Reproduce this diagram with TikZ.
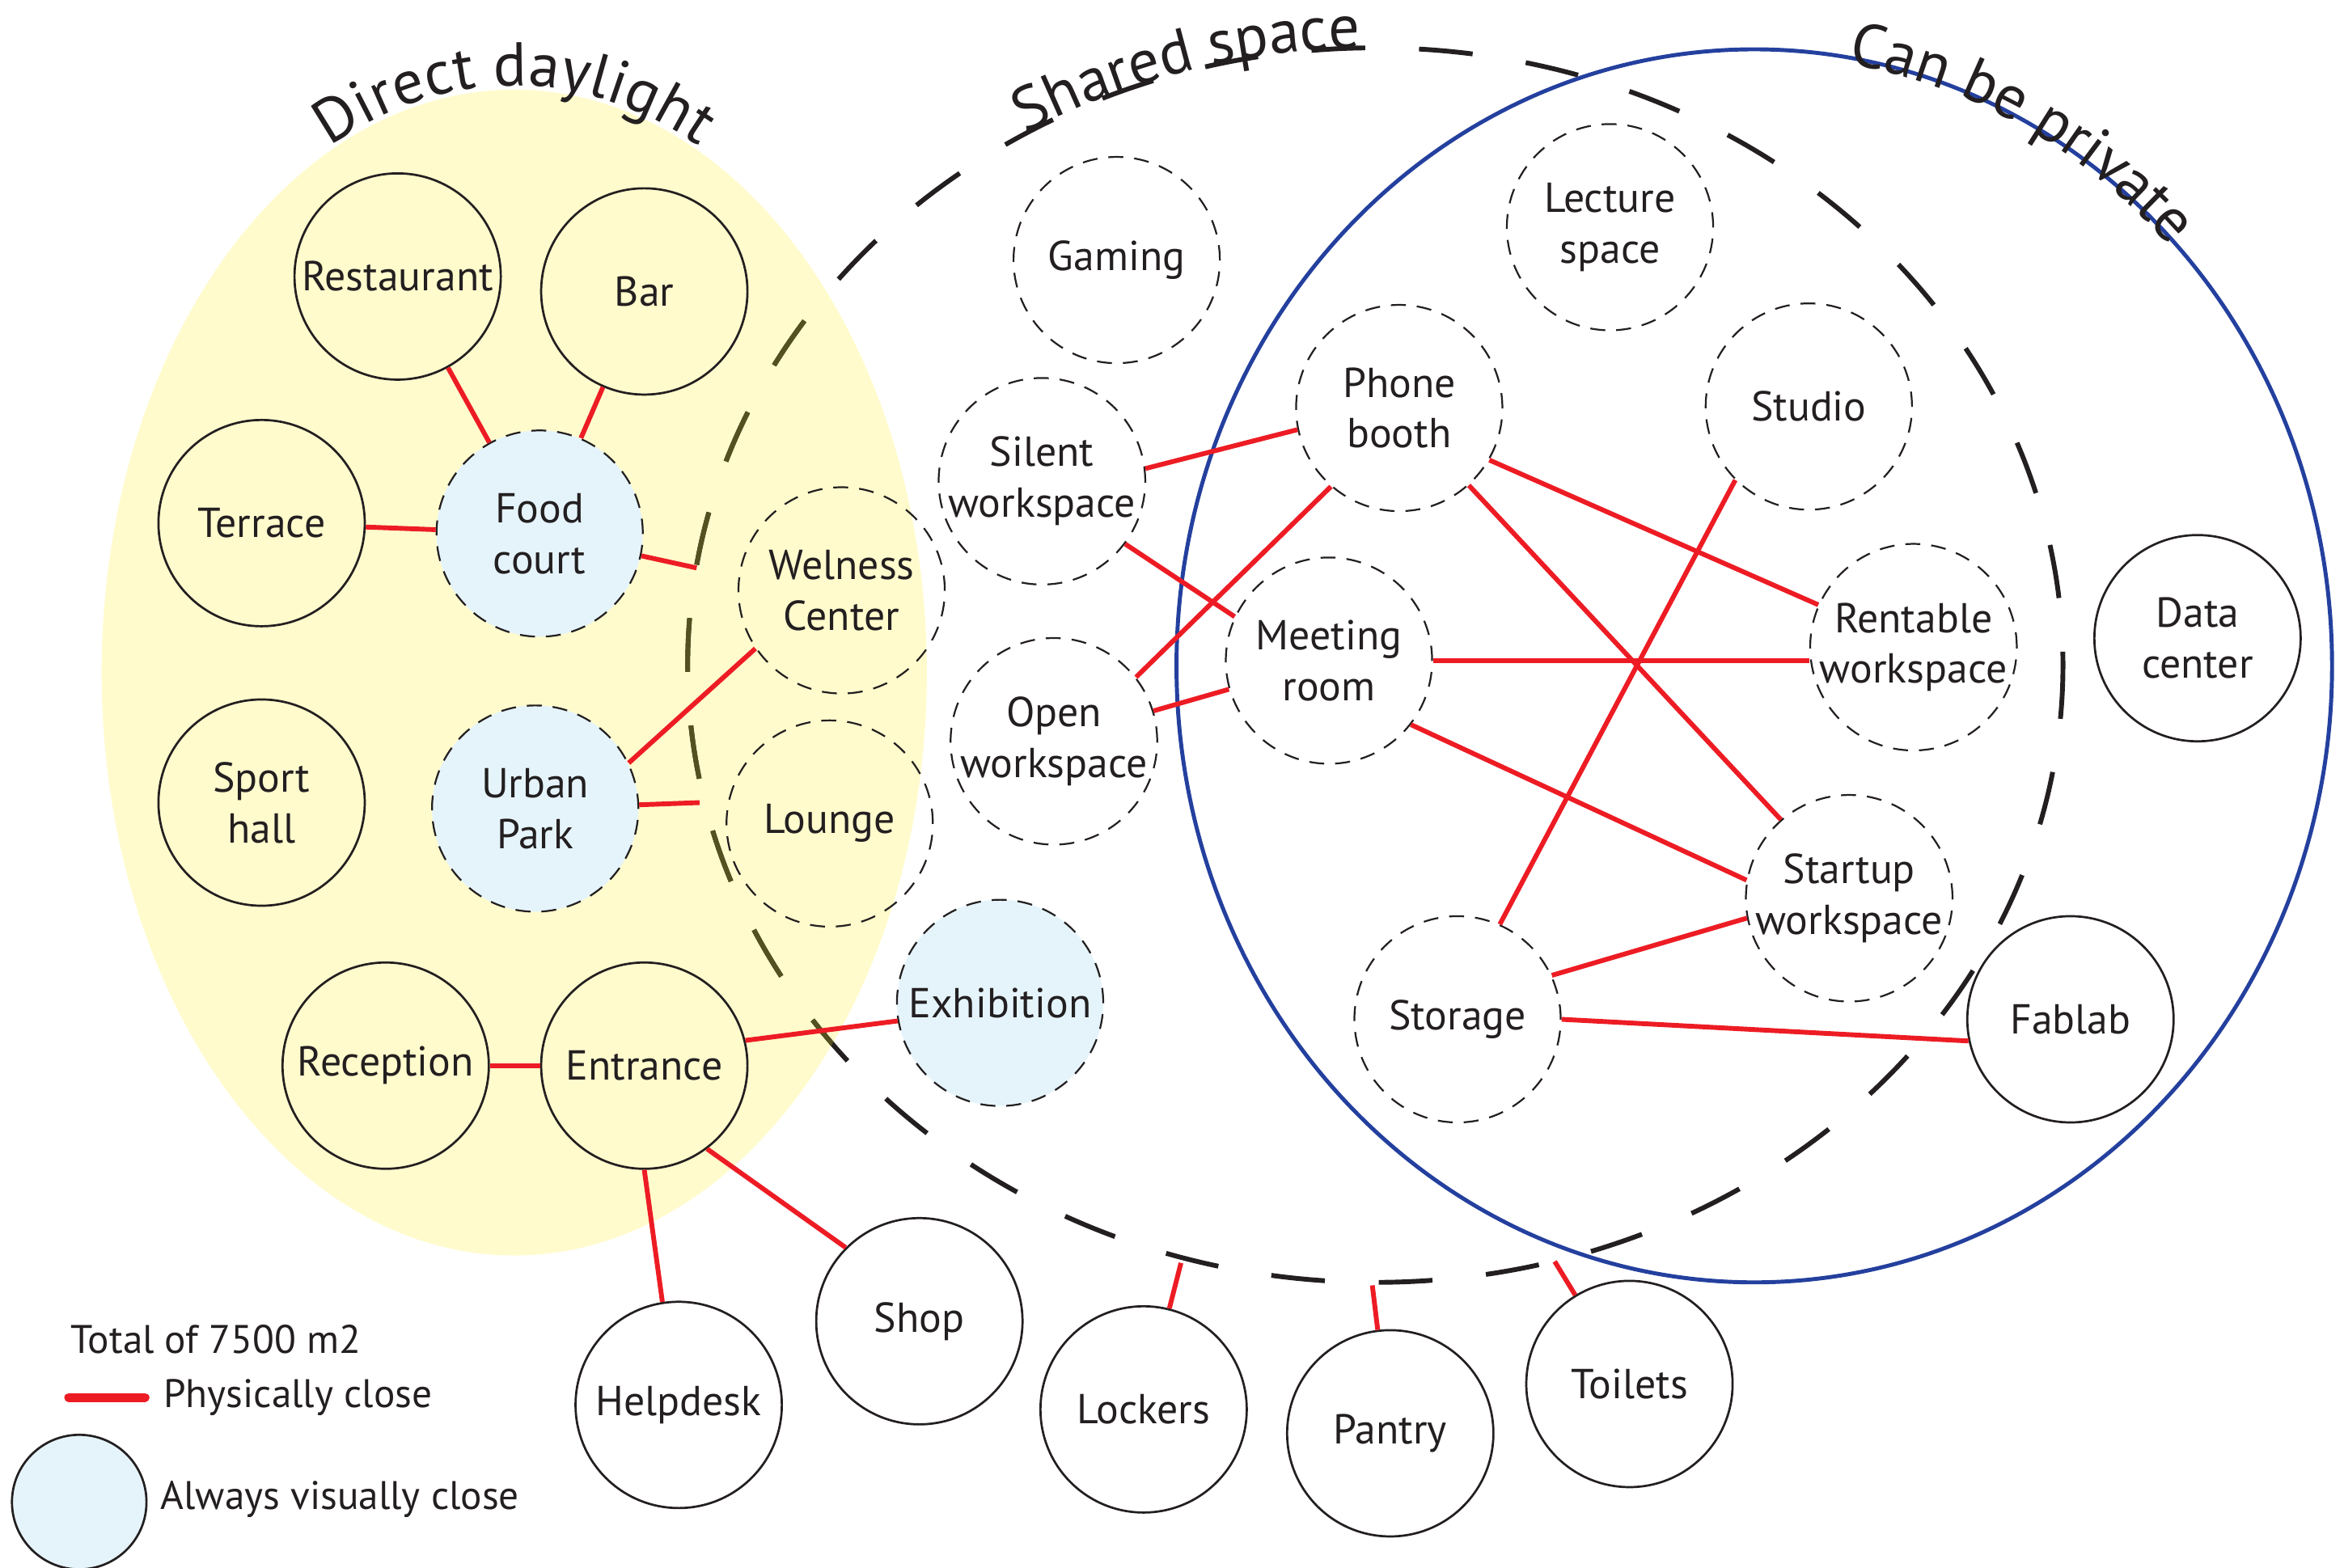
\documentclass[tikz,border=0pt]{standalone}
\usepackage{fontspec}
\setmainfont{PT Sans}
\usetikzlibrary{calc,decorations.text}

\definecolor{daylight}{RGB}{255,251,205}
\definecolor{visual}{RGB}{229,244,251}
\definecolor{closered}{RGB}{237,28,36}
\definecolor{privblue}{RGB}{36,64,158}
\definecolor{inkdark}{RGB}{35,31,32}
\definecolor{oliveink}{RGB}{84,80,32}

\tikzset{every picture/.style={line width=0.75pt}}
\tikzset{
  room/.style={circle,draw=inkdark,line width=1.1pt,minimum size=103.5pt,inner sep=0pt,
    align=center,text=inkdark,font=\fontsize{21}{25.5}\selectfont},
  shared/.style={room,line width=0.9pt,dash pattern=on 7.5pt off 5.5pt},
  seen/.style={fill=visual},
  near/.style={draw=closered,line width=2.4pt},
  keytext/.style={anchor=west,inner sep=0pt,text=inkdark,font=\fontsize{20}{23}\selectfont},
  zonetitle/.style={decorate,decoration={text along path,text align=center,raise=#1,
    text color=inkdark}},
}

\begin{document}
\begin{tikzpicture}[x=0.75pt,y=0.75pt,yscale=-1,xscale=1]
\useasboundingbox (0,0) rectangle (1568,1049);

%Zone: direct daylight
\fill [daylight] (344,450) ellipse [x radius=276,y radius=390];
%Zone: shared space
\draw [inkdark,line width=2.4pt,dash pattern=on 27pt off 27pt] (920,445) ellipse [x radius=460,y radius=413];
\begin{scope}
\clip (344,450) ellipse [x radius=276,y radius=390];
\draw [oliveink,line width=2.4pt,dash pattern=on 27pt off 27pt] (920,445) ellipse [x radius=460,y radius=413];
\end{scope}
%Zone: can be private
\draw [privblue,line width=2pt] (1173.5,445.5) ellipse [x radius=386.5,y radius=412.5];

%Zone titles
\path [zonetitle=2pt,decoration={text={|\fontsize{31}{31}\selectfont|Direct daylight}}]
  ($(344,450)+(-124:276 and 390)$) arc [start angle=-124,end angle=-56,x radius=276,y radius=390];
\path [zonetitle=0pt,decoration={text={|\fontsize{31}{31}\selectfont|Shared space}}]
  ($(920,445)+(-126:460 and 413)$) arc [start angle=-126,end angle=-86,x radius=460,y radius=413];
\path [zonetitle=-3pt,decoration={text={|\fontsize{31}{31}\selectfont|Can be private}}]
  ($(1173.5,445.5)+(-83:386.5 and 412.5)$) arc [start angle=-83,end angle=-41,x radius=386.5,y radius=412.5];

%Rooms in daylight
\node [room] (rest) at (266,185) {Restaurant};
\node [room] (bar) at (431,195) {Bar};
\node [room] (terr) at (175,350) {Terrace};
\node [shared,seen] (food) at (361,357) {Food\\court};
\node [room] (sport) at (175,537) {Sport\\hall};
\node [shared,seen] (park) at (358,541) {Urban\\Park};
\node [shared] (welness) at (563,395) {Welness\\Center};
\node [shared] (lounge) at (555,551) {Lounge};
\node [room] (recep) at (258,713) {Reception};
\node [room] (entr) at (431,713) {Entrance};

%Shared rooms
\node [shared,seen] (exhib) at (669,671) {Exhibition};
\node [shared] (gaming) at (747,174) {Gaming};
\node [shared] (silent) at (697,322) {Silent\\workspace};
\node [shared] (open) at (705,496) {Open\\workspace};
\node [shared] (lecture) at (1077,152) {Lecture\\space};
\node [shared] (phone) at (936,273) {Phone\\booth};
\node [shared] (studio) at (1210,272) {Studio};
\node [shared] (meet) at (889,442) {Meeting\\room};
\node [shared] (rent) at (1280,433) {Rentable\\workspace};
\node [shared] (startup) at (1237,601) {Startup\\workspace};
\node [shared] (storage) at (975,682) {Storage};

%Private and outside rooms
\node [room] (datac) at (1470,427) {Data\\center};
\node [room] (fablab) at (1385,682) {Fablab};
\node [room] (shop) at (615,884) {Shop};
\node [room] (help) at (454,940) {Helpdesk};
\node [room] (lockers) at (765,943) {Lockers};
\node [room] (pantry) at (930,959) {Pantry};
\node [room] (toilets) at (1090,926) {Toilets};

%Points on the shared space edge
\coordinate (edge-food) at (466,380);
\coordinate (edge-park) at (468,537);
\coordinate (edge-lock) at (790,845);
\coordinate (edge-pant) at (918,860);
\coordinate (edge-toil) at (1040,844);

%Physically close
\draw [near] (rest) -- (food);
\draw [near] (bar) -- (food);
\draw [near] (terr) -- (food);
\draw [near] (food) -- (edge-food);
\draw [near] (park.26) -- (welness.214);
\draw [near] (park) -- (edge-park);
\draw [near] (recep) -- (entr);
\draw [near] (entr.14) -- (exhib.190);
\draw [near] (entr.270) -- (help.99);
\draw [near] (entr.-53) -- (shop.135);
\draw [near] (lockers) -- (edge-lock);
\draw [near] (pantry) -- (edge-pant);
\draw [near] (toilets) -- (edge-toil);
\draw [near] (silent.7) -- (phone.192);
\draw [near] (silent.-37) -- (meet.155);
\draw [near] (open.38) -- (phone.229);
\draw [near] (open.17) -- (meet.196);
\draw [near] (phone.-30) -- (rent.156);
\draw [near] (phone.-48) -- (startup.131);
\draw [near] (meet.east) -- (meet.east -| rent.west);
\draw [near] (meet.-38) -- (startup.170);
\draw [near] (studio.225) -- (storage.66);
\draw [near] (storage.25) -- (startup.191);
\draw [near] (storage.east) -- (fablab.192);

%Legend
\node [keytext] (total) at (47,896) {Total of 7500 m2};
\coordinate (key-a) at (46,935);
\coordinate (key-b) at (97,935);
\draw [near,line width=4.5pt,line cap=round] (key-a) -- (key-b);
\node [keytext] (key-near) at (109,935) {Physically close};
\node [circle,draw=inkdark,line width=1.1pt,fill=visual,minimum size=67.5pt] (key-seen) at (53,1005) {};
\node [keytext] (key-seen-text) at (107,1003) {Always visually close};

\end{tikzpicture}
\end{document}
